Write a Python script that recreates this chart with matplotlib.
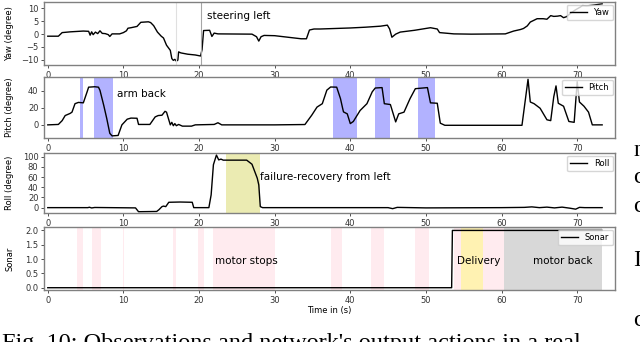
import numpy as np
import matplotlib.pyplot as plt

# ---- data ----
yaw_t = [0, 1.4, 1.9, 3.0, 4.7, 5.4, 5.6, 5.8, 6.0, 6.3, 6.6, 6.9, 7.2, 7.6, 8.0, 8.2, 8.5, 9.5,
         10.0, 10.4, 10.6, 11.0, 11.8, 12.3, 13.3, 13.6, 14.0, 14.5, 15.0, 15.3, 15.7, 16.2, 16.4,
         16.6, 16.8, 17.0, 17.2, 17.3, 17.6, 18.5, 19.5, 20.2, 20.4, 20.6, 21.4, 21.7, 22.0, 22.5,
         27.0, 27.6, 27.9, 28.2, 28.6, 30, 33.5, 34.2, 34.6, 35.2, 36, 38, 40, 42, 44, 44.9, 45.2,
         45.5, 46.0, 46.6, 48.5, 50.6, 51.5, 51.8, 53.7, 56, 60.5, 61.6, 62.5, 62.9, 63.4, 63.8,
         64.7, 65.5, 66.0, 66.5, 66.9, 67.4, 67.8, 68.2, 68.6, 69.2, 69.8, 70.4, 70.7, 71.3, 72.2, 73.3]
yaw = [-0.8, -0.8, 0.6, 0.9, 1.2, 1.1, -0.4, 0.9, -0.2, 0.8, 0.2, 1.3, 0.3, 0.2, -0.2, -0.9, 0.1, 0.1,
       0.6, 1.3, 2.3, 2.5, 3.0, 4.6, 4.8, 4.5, 3.3, 0.8, -0.8, -1.5, -4.3, -6.3, -9.5,
       -10.2, -9.8, -10.5, -10.1, -6.9, -7.3, -7.8, -8.1, -8.5, -6.0, 1.4, 1.5, -0.9, 0.4, 0.1,
       0.0, -1.0, -2.7, -1.0, -0.5, -0.6, -1.8, -1.8, 1.6, 2.0, 2.0, 2.2, 2.4, 2.7, 3.1, 3.5, 2.0,
       -1.2, 0.0, 0.8, 1.5, 2.5, 2.0, 0.6, 0.1, 0.0, 0.1, 1.2, 1.8, 2.2, 3.2, 4.7,
       6.0, 6.0, 5.8, 7.2, 6.9, 7.0, 7.2, 6.4, 6.8, 8.3, 9.5, 10.5, 11.1, 11.0, 11.3, 11.8]

pitch_t = [0, 1.4, 1.9, 2.3, 2.95, 3.2, 3.6, 4.05, 4.7, 5.2, 5.4, 6.2, 6.7, 6.9, 7.4, 7.8, 8.2, 8.5,
           9.3, 9.8, 10.5, 11.0, 11.8, 12.0, 13.5, 14.2, 14.6, 15.1, 15.5, 15.7, 16.0, 16.2, 16.4,
           16.6, 16.8, 17.0, 17.3, 17.8, 19.0, 19.5, 22.0, 22.5, 23.0, 30, 34.0, 34.9, 35.6, 36.3,
           36.9, 37.4, 38.2, 38.7, 39.0, 39.1, 39.6, 40.0, 40.4, 41.3, 42.2, 42.9, 43.3, 44.2, 44.5,
           45.3, 46.0, 46.4, 47.1, 47.9, 48.6, 50.2, 50.6, 51.5, 51.9, 52.5, 62.7, 63.5, 63.8, 64.3,
           65.1, 66.0, 66.5, 66.9, 67.2, 67.5, 68.2, 68.9, 69.6, 70.0, 70.3, 70.9, 71.5, 72.0, 73.3]
pitch = [0, 0.5, 5, 11, 13.5, 15, 25, 26.5, 26, 39, 44.5, 45, 44.5, 40.8, 23, 7.4, -10, -13,
         -12.5, 0, 6.7, 8, 7.8, 0.5, 0.5, 9.4, 11, 11.4, 16, 15, 6, 0, 3,
         -1, 1.5, -1, 0.5, -1.5, -1.5, 0, 0.5, 2.5, 0, 0, 0.4, 11.4, 21, 25,
         41, 44.7, 44.5, 31, 19, 15.3, 13, 1.5, 4, 17, 25, 39, 43.5, 44, 25,
         24, 3.5, 13, 15, 31, 42.7, 44, 26, 25.5, 2, -0.5, -0.5, 53.8, 27, 25,
         19.6, 6, 5, 33, 46, 25.5, 22, 4, 3, 51, 27, 22, 15, 0, 0]

roll_t = [0, 5.3, 5.5, 5.8, 6.2, 11.6, 12.0, 14.4, 14.7, 15.1, 15.3, 15.6, 16.0, 17.5, 19.1, 19.3,
          21.3, 21.6, 21.9, 22.3, 22.6, 22.9, 23.2, 26.3, 27.0, 27.7, 27.9, 28.1, 28.4, 45, 45.6,
          46.2, 50, 60, 63, 64, 65, 66, 67, 68, 69, 69.8, 70.3, 71, 73.3]
roll = [0, 0, 0.8, -0.6, 0.3, -0.5, -8, -7.5, -4, 2, 3, 2, 10.5, 11, 10.5, 0,
        0, 25, 84, 103, 93.5, 95, 93, 93, 85, 57.6, 44.5, 2, 0, 0, -2,
        0.5, -0.5, 0, 0.5, 1.5, 0, 1, -0.5, 1, -1, -3, 0.5, 0, 0]

sonar_t = [0, 53.4, 53.5, 73.3]
sonar = [0, 0, 2, 2]

steer_lines = [16.9, 20.2]
arm_back = [(4.23, 4.63), (6.08, 8.6), (37.7, 40.9), (43.3, 45.2), (48.9, 51.2)]
recovery = [(23.5, 28.1)]
motor_stops = [(3.9, 4.7), (5.9, 7.05), (9.95, 10.05), (16.5, 17.0), (19.8, 20.6), (21.9, 30.0),
               (37.5, 38.9), (42.8, 44.5), (48.6, 50.4), (53.7, 54.6), (57.5, 60.3)]
delivery = [(54.6, 57.5)]
motor_back = [(60.3, 73.3)]

caption = "Fig. 10: Observations and network's output actions in a real"
side_text = [(150, 'n'), (177, 'c'), (206, 'c'), (260, 'I'), (320, 'c')]

fig = plt.figure(figsize=(6.4, 3.42), dpi=100)
H = 342.0
L, R = 44 / 640, 615 / 640


def make_ax(top, bot):
    ax = fig.add_axes([L, 1 - bot / H, R - L, (bot - top) / H])
    for s in ax.spines.values():
        s.set_color('0.5')
        s.set_linewidth(1.0)
    ax.tick_params(labelsize=6, colors='0.2', length=2.5, width=0.6, pad=1.5)
    ax.set_xlim(-0.5, 75)
    ax.set_xticks(range(0, 80, 10))
    return ax


ax1 = make_ax(2, 65)
ax2 = make_ax(77, 138)
ax3 = make_ax(153, 213)
ax4 = make_ax(227, 290)

# yaw
ax1.plot(yaw_t, yaw, color='k', lw=1.0, label='Yaw')
ax1.axvline(steer_lines[0], color='0.88', lw=0.8)
ax1.axvline(steer_lines[1], color='0.65', lw=0.8)
ax1.text(21.1, 6.9, 'steering left', fontsize=7.5, va='center')
ax1.set_ylim(-12, 12.5)
ax1.set_yticks([-10, -5, 0, 5, 10])
ax1.set_ylabel('Yaw (degree)', fontsize=6)

# pitch
for a, b in arm_back:
    ax2.axvspan(a, b, color='blue', alpha=0.3, lw=0)
ax2.plot(pitch_t, pitch, color='k', lw=1.0, label='Pitch')
ax2.text(9.1, 36, 'arm back', fontsize=7.5, va='center')
ax2.set_ylim(-15.5, 56.5)
ax2.set_yticks([0, 20, 40])
ax2.set_ylabel('Pitch (degree)', fontsize=6)

# roll
for a, b in recovery:
    ax3.axvspan(a, b, color='y', alpha=0.3, lw=0)
ax3.plot(roll_t, roll, color='k', lw=1.0, label='Roll')
ax3.text(28.1, 59.6, 'failure-recovery from left', fontsize=7.5, va='center')
ax3.set_ylim(-10.5, 107)
ax3.set_yticks(range(0, 101, 20))
ax3.set_ylabel('Roll (degree)', fontsize=6)

# sonar
for a, b in motor_stops:
    ax4.axvspan(a, b, color='pink', alpha=0.3, lw=0)
for a, b in delivery:
    ax4.axvspan(a, b, color='gold', alpha=0.3, lw=0)
for a, b in motor_back:
    ax4.axvspan(a, b, color='grey', alpha=0.3, lw=0)
ax4.plot(sonar_t, sonar, color='k', lw=1.0, label='Sonar')
ax4.text(22.05, 0.94, 'motor stops', fontsize=7.5, va='center')
ax4.text(54.1, 0.94, 'Delivery', fontsize=7.5, va='center')
ax4.text(64.2, 0.94, 'motor back', fontsize=7.5, va='center')
ax4.set_ylim(-0.08, 2.12)
ax4.set_yticks([0, 0.5, 1.0, 1.5, 2.0])
ax4.set_ylabel('Sonar', fontsize=6)
ax4.set_xlabel('Time in (s)', fontsize=6, labelpad=1)

for ax in (ax1, ax2, ax3, ax4):
    ax.legend(loc='upper right', fontsize=6, borderaxespad=0.3)
    ax.yaxis.set_label_coords(-0.052, 0.5)

# caption (cut at the bottom edge, as in the page crop) and the clipped neighbouring column
fig.text(0.003, -0.02, caption, family='Liberation Serif', fontsize=17.5,
         va='baseline', ha='left')
for yy, s in side_text:
    fig.text(633 / 640, 1 - yy / H, s, family='Liberation Serif', fontsize=17.5, va='center')

fig.savefig('out.png', dpi=100)
